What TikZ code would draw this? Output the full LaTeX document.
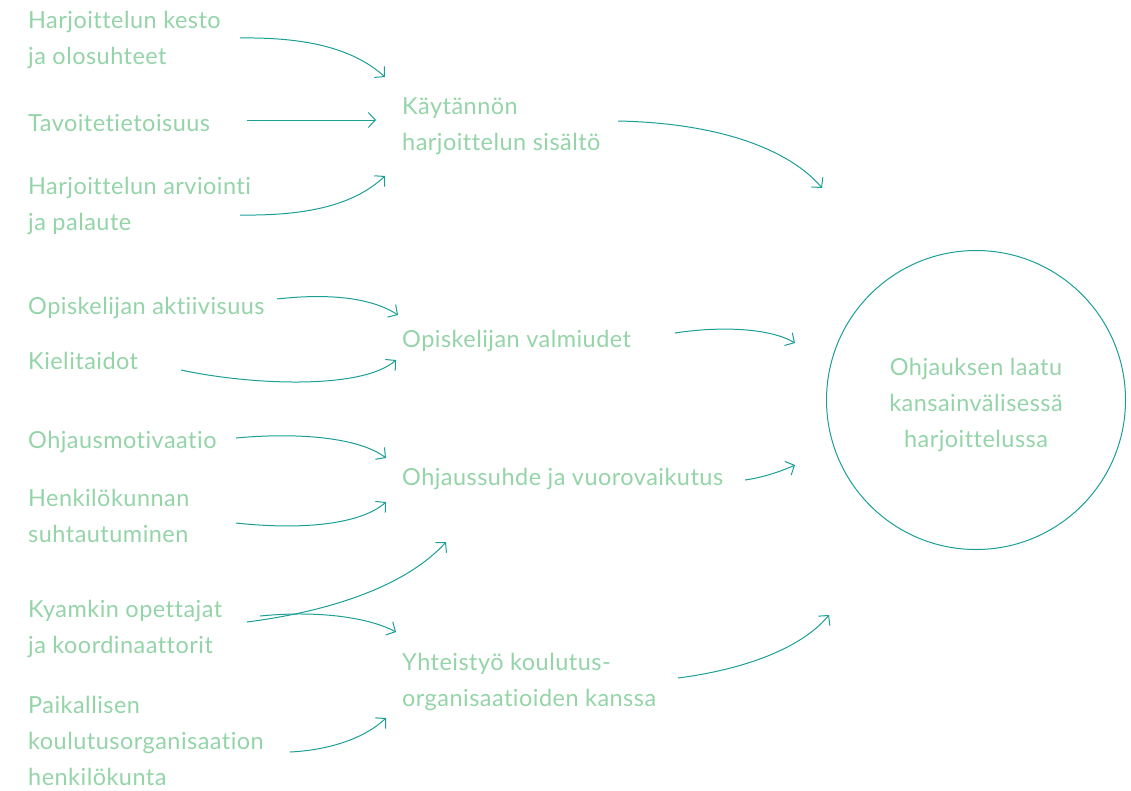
\documentclass[tikz,border=0pt]{standalone}
\usepackage{fontspec}
\setmainfont{Lato}[LetterSpace=2,Ligatures=NoCommon]
\usetikzlibrary{arrows.meta}
\definecolor{txtgreen}{HTML}{94D4A8}
\definecolor{linet}{HTML}{1A9E96}
\begin{document}
\begin{tikzpicture}[x=1pt,y=-1pt,
  lbl/.style={anchor=west,inner sep=0pt,align=left,text=txtgreen,font=\fontsize{23.5}{36}\selectfont},
  arr/.style={draw=linet,line width=1pt,-{Straight Barb[length=7pt,width=15pt,line width=1pt]}}]
\useasboundingbox (0,0) rectangle (1131,790);
% left column
\node[lbl] (a1) at (28,40) {Harjoittelun kesto\\ja olosuhteet};
\node[lbl] (a2) at (28,123) {Tavoitetietoisuus};
\node[lbl] (a3) at (28,206) {Harjoittelun arviointi\\ja palaute};
\node[lbl] (b1) at (28,308) {Opiskelijan aktiivisuus};
\node[lbl] (b2) at (28,361) {Kielitaidot};
\node[lbl] (c1) at (28,442) {Ohjausmotivaatio};
\node[lbl] (c2) at (28,516) {Henkilökunnan\\suhtautuminen};
\node[lbl] (d1) at (28,629) {Kyamkin opettajat\\ja koordinaattorit};
\node[lbl] (d2) at (28,741) {Paikallisen\\koulutusorganisaation\\henkilökunta};
% middle column
\node[lbl] (m1) at (402,126) {Käytännön\\harjoittelun sisältö};
\node[lbl] (m2) at (402,341) {Opiskelijan valmiudet};
\node[lbl] (m3) at (402,479) {Ohjaussuhde ja vuorovaikutus};
\node[lbl] (m4) at (402,682) {Yhteistyö koulutus-\\organisaatioiden kanssa};
% circle
\node[draw=linet,line width=1pt,circle,minimum size=299pt,inner sep=0pt] (goal) at (976,400) {};
\node[inner sep=0pt,align=center,text=txtgreen,font=\fontsize{23.5}{36}\selectfont] (goaltext) at (976,405) {Ohjauksen laatu\\kansainvälisessä\\harjoittelussa};
% connector end points
\coordinate (s1) at (240,38);  \coordinate (e1) at (385,77);
\coordinate (s2) at (247,120); \coordinate (e2) at (376,120);
\coordinate (s3) at (240,215); \coordinate (e3) at (385,176);
\coordinate (s4) at (618,121); \coordinate (e4) at (822,188);
\coordinate (s5) at (277,299); \coordinate (e5) at (398,315);
\coordinate (s6) at (181,370); \coordinate (e6) at (396,360);
\coordinate (s7) at (675,333); \coordinate (e7) at (795,343);
\coordinate (s8) at (236,438); \coordinate (e8) at (386,458);
\coordinate (s9) at (236,523); \coordinate (e9) at (386,502);
\coordinate (s10) at (745,480); \coordinate (e10) at (795,465);
\coordinate (s11) at (247,622); \coordinate (e11) at (446,542);
\coordinate (s12) at (260,616); \coordinate (e12) at (396,632);
\coordinate (s13) at (290,752); \coordinate (e13) at (386,718);
\coordinate (s14) at (678,678); \coordinate (e14) at (829,615);
% connectors
\draw[arr] (s1) .. controls (310,37) and (355,50) .. (e1);
\draw[arr] (s2) -- (e2);
\draw[arr] (s3) .. controls (310,216) and (355,204) .. (e3);
\draw[arr] (s4) .. controls (720,123) and (790,150) .. (e4);
\draw[arr] (s5) .. controls (330,293) and (372,298) .. (e5);
\draw[arr] (s6) .. controls (250,385) and (362,390) .. (e6);
\draw[arr] (s7) .. controls (720,326) and (770,328) .. (e7);
\draw[arr] (s8) .. controls (300,432) and (360,438) .. (e8);
\draw[arr] (s9) .. controls (300,530) and (360,525) .. (e9);
\draw[arr] (s10) .. controls (760,478) and (780,472) .. (e10);
\draw[arr] (s11) .. controls (340,610) and (410,582) .. (e11);
\draw[arr] (s12) .. controls (320,610) and (370,618) .. (e12);
\draw[arr] (s13) .. controls (330,750) and (365,738) .. (e13);
\draw[arr] (s14) .. controls (740,670) and (800,650) .. (e14);
\end{tikzpicture}
\end{document}
